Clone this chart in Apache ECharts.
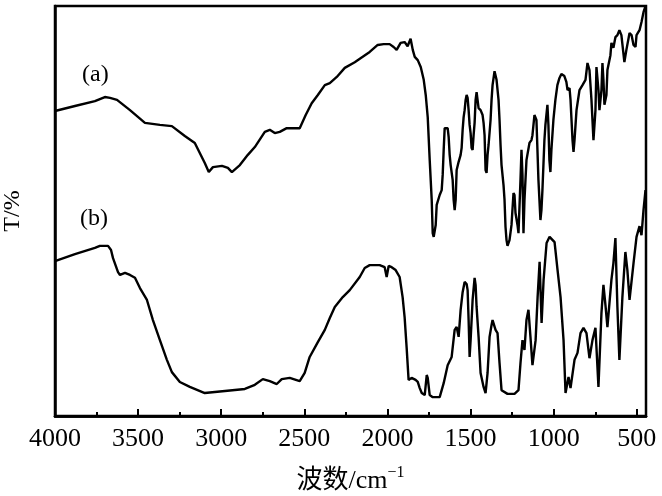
<!DOCTYPE html>
<html>
<head>
<meta charset="utf-8">
<script src="https://cdn.jsdelivr.net/npm/echarts@6/dist/echarts.min.js"></script>
<style>
  html, body { margin: 0; padding: 0; background: #fff; }
  #chart { width: 662px; height: 496px; }
</style>
</head>
<body>
<div id="chart"></div>
<script>
// IR spectra, wavenumber (cm-1) vs transmittance (arbitrary %)
const wnA = [4000,3880,3760,3700,3669,3627,3549,3459,3369,3297,3219,3159,3099,3075,3050,2996,2960,2936,2888,2840,2798,2738,2708,2678,2648,2606,2528,2492,2456,2419,2377,2347,2305,2257,2197,2149,2107,2059,2023,1987,1963,1945,1921,1897,1879,1861,1848,1836,1818,1800,1782,1770,1758,1746,1734,1728,1722,1710,1704,1686,1674,1668,1662,1656,1638,1632,1626,1620,1608,1602,1596,1590,1584,1572,1560,1554,1548,1542,1536,1530,1524,1518,1512,1506,1500,1494,1488,1482,1476,1470,1464,1458,1452,1440,1428,1422,1416,1410,1404,1398,1392,1380,1374,1368,1356,1344,1332,1326,1320,1314,1302,1296,1290,1284,1278,1266,1254,1242,1236,1230,1218,1212,1200,1194,1188,1182,1176,1164,1146,1134,1128,1116,1104,1098,1092,1080,1074,1068,1056,1050,1038,1032,1026,1020,1014,1002,990,978,966,954,936,924,917,905,899,893,887,881,875,863,845,827,809,797,785,773,761,749,743,731,725,713,707,701,695,683,677,659,653,641,629,617,605,593,575,563,544,532,520,508,502,484,472,460,448];
const tA = [74.4,75.6,76.8,77.8,77.6,77.1,74.6,71.5,71.0,70.7,68.3,66.6,61.7,59.5,60.7,61.0,60.5,59.5,61.2,63.7,65.6,69.3,69.8,69.0,69.3,70.2,70.2,73.4,76.3,78.3,80.7,81.2,82.7,84.9,86.3,87.6,88.8,90.5,90.7,90.7,90.0,89.3,91.0,91.2,90.2,92.0,89.3,87.6,86.8,85.1,82.0,78.3,72.9,62.4,52.7,44.6,43.7,46.6,51.5,53.9,55.1,58.8,64.9,70.2,70.2,68.0,63.7,61.2,57.6,52.7,50.2,52.7,60.0,62.0,63.7,65.4,69.8,72.9,74.6,77.1,78.3,77.6,74.6,71.0,69.0,65.4,64.9,68.5,71.5,77.1,79.0,78.8,75.1,74.6,73.4,71.5,68.5,60.0,59.3,63.7,66.1,72.2,77.1,80.7,84.1,82.0,77.1,72.2,66.1,61.2,56.3,52.7,46.1,42.9,41.5,42.9,46.6,54.4,53.9,49.5,46.6,44.6,57.6,64.9,58.8,44.6,52.7,62.4,66.6,67.3,68.5,73.4,72.2,64.9,57.6,47.8,50.2,55.1,67.3,71.0,75.9,71.0,62.4,59.5,64.9,72.2,77.1,80.7,82.4,83.4,82.9,81.5,79.5,80.0,77.1,72.2,67.3,64.4,67.3,74.6,79.5,80.7,82.0,86.1,84.4,77.1,67.3,74.6,85.1,79.5,74.6,79.5,86.1,82.0,75.9,78.3,84.4,88.0,91.0,89.8,92.4,92.9,94.1,92.9,86.3,89.3,93.4,92.9,90.5,90.0,92.9,94.1,96.1,98.5,100];

const wnB = [4000,3880,3760,3730,3681,3663,3651,3621,3609,3579,3549,3519,3489,3447,3411,3369,3327,3297,3249,3189,3099,2978,2858,2798,2750,2708,2666,2636,2588,2528,2498,2468,2419,2377,2347,2317,2269,2227,2167,2137,2107,2047,2017,2005,1993,1975,1951,1927,1909,1897,1885,1873,1855,1831,1818,1806,1794,1776,1764,1758,1746,1728,1686,1662,1638,1614,1596,1584,1572,1560,1548,1536,1524,1518,1512,1506,1500,1488,1476,1470,1464,1452,1440,1422,1410,1398,1386,1374,1368,1350,1338,1326,1314,1278,1236,1212,1200,1188,1176,1164,1152,1140,1128,1109,1097,1085,1073,1061,1043,1025,995,977,959,941,929,911,899,875,857,839,821,803,785,767,749,731,713,701,689,677,653,641,629,617,605,587,569,557,544,520,502,484,472,460,448];
const tB = [37.8,39.5,41.0,41.5,41.5,40.5,38.5,35.1,34.4,34.9,34.4,33.7,31.2,28.3,23.4,18.5,13.7,10.7,8.3,7.1,5.6,6.1,6.6,7.6,9.0,8.5,7.8,9.0,9.3,8.5,10.5,14.4,18.0,21.0,23.9,26.6,29.0,30.7,33.9,36.1,36.8,36.8,36.3,33.9,36.6,36.3,35.6,33.9,29.0,24.1,16.8,8.8,9.3,8.8,8.3,6.8,5.6,5.1,10.0,9.3,5.1,4.6,4.6,8.0,12.4,14.4,21.0,21.7,19.3,25.9,30.2,32.7,32.2,30.7,23.4,14.4,18.5,28.3,33.7,32.0,26.6,19.3,10.5,7.1,5.6,10.5,19.3,22.2,23.4,21.0,20.2,12.9,6.3,5.4,5.4,6.3,12.9,18.5,16.1,23.4,25.9,19.3,12.4,18.5,29.0,37.6,22.7,33.2,42.2,43.7,42.4,35.6,29.0,18.5,5.6,9.5,6.8,13.7,15.4,20.2,21.5,20.2,14.1,18.5,21.5,7.1,25.1,32.0,27.1,21.7,33.2,37.3,43.4,26.6,13.7,29.0,40.0,35.6,28.3,37.3,43.7,46.3,44.1,50.2,55.1];

const labelTicks = [4000, 3500, 3000, 2500, 2000, 1500, 1000, 500];

const serif = "'Liberation Serif', 'Noto Sans CJK SC', serif";

const chart = echarts.init(document.getElementById('chart'), null, { renderer: 'canvas' });

chart.setOption({
  animation: false,
  grid: {
    left: 55, right: 16, top: 6, bottom: 80,
    outerBoundsMode: 'none',
    containLabel: false,
    show: true, backgroundColor: 'transparent', borderColor: '#000', borderWidth: 2.5
  },
  xAxis: [
    {
      type: 'value',
      inverse: true,
      min: 445,
      max: 4000,
      z: 10,
      axisLine: { lineStyle: { color: '#000', width: 2.5 } },
      axisTick: { show: true, inside: true, length: 7, customValues: labelTicks, lineStyle: { color: '#000', width: 2 } },
      axisLabel: {
        customValues: labelTicks,
        formatter: (v) => String(v),
        color: '#000', fontSize: 26, fontFamily: serif, margin: 10
      },
      splitLine: { show: false },
      name: '{a|波数/cm}{b|−1}',
      nameLocation: 'middle',
      nameGap: 49,
      nameTextStyle: {
        rich: {
          a: { fontSize: 26, fontFamily: serif, color: '#000', lineHeight: 32 },
          b: { fontSize: 16, fontFamily: serif, color: '#000', verticalAlign: 'top', lineHeight: 32 }
        }
      }
    },
    {
      // minor ticks: same span as the wavenumber axis, one every 250
      type: 'value',
      position: 'bottom',
      min: -4000,
      max: -445,
      interval: 250,
      z: 10,
      axisLine: { show: true, lineStyle: { color: '#000', width: 2.5 } },
      axisTick: { show: true, inside: true, length: 4, lineStyle: { color: '#000', width: 2 } },
      axisLabel: { show: false },
      splitLine: { show: false }
    }
  ],
  yAxis: {
    type: 'value',
    min: 0,
    max: 100,
    axisLine: { show: true, lineStyle: { color: '#000', width: 2.5 } },
    axisTick: { show: false },
    axisLabel: { show: false },
    splitLine: { show: false },
    name: 'T/%',
    nameLocation: 'middle',
    nameRotate: 90,
    nameGap: 30,
    nameTextStyle: { fontSize: 24, fontFamily: serif, color: '#000' }
  },
  graphic: [
    { type: 'text', left: 82, top: 63, style: { text: '(a)', font: "24px 'Liberation Serif', serif", fill: '#000' } },
    { type: 'text', left: 80, top: 207, style: { text: '(b)', font: "24px 'Liberation Serif', serif", fill: '#000' } }
  ],
  series: [
    {
      name: 'a',
      type: 'line',
      xAxisIndex: 0,
      data: wnA.map((w, i) => [w, tA[i]]),
      symbol: 'none',
      smooth: false,
      clip: true,
      lineStyle: { color: '#000', width: 2.4 }
    },
    {
      name: 'b',
      type: 'line',
      xAxisIndex: 0,
      data: wnB.map((w, i) => [w, tB[i]]),
      symbol: 'none',
      smooth: false,
      clip: true,
      lineStyle: { color: '#000', width: 2.4 }
    }
  ]
});
</script>
</body>
</html>
